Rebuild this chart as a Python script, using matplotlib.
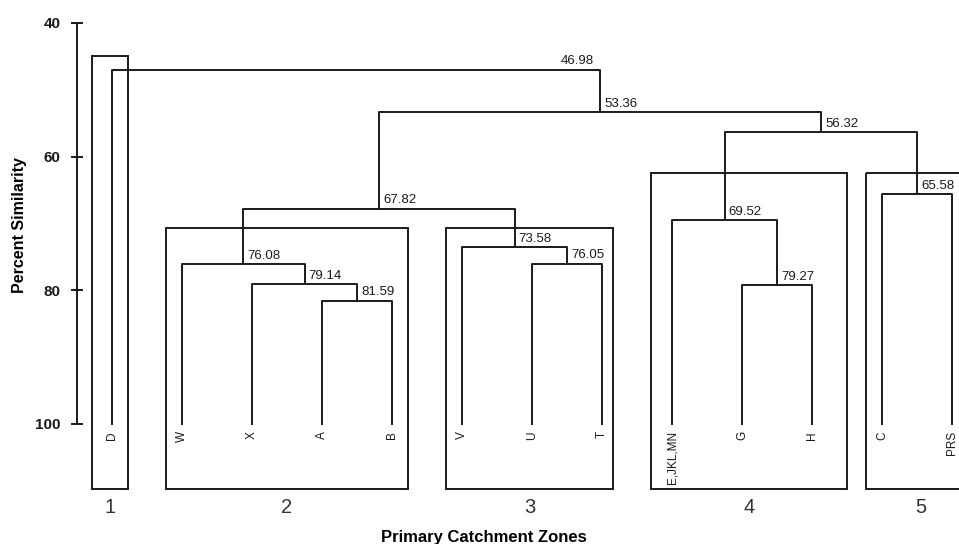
import matplotlib
matplotlib.use("Agg")
from matplotlib import pyplot as plt
from matplotlib.patches import Rectangle

plt.rcParams["font.family"] = ["Liberation Sans", "DejaVu Sans"]

# leaves in the order they are drawn
leaves = ["D", "W", "X", "A", "B", "V", "U", "T", "E,JKL,MN", "G", "H", "C", "PRS"]

# merges: m1 is the first row, m2 the second and so on
merge_left = ["A", "G", "X", "W", "U", "V", "E,JKL,MN", "m4", "C", "m7", "m8", "D"]
merge_right = ["B", "H", "m1", "m3", "T", "m5", "m2", "m6", "PRS", "m9", "m10", "m11"]
merge_height = [81.59, 79.27, 79.14, 76.08, 76.05, 73.58, 69.52, 67.82, 65.58, 56.32, 53.36, 46.98]

# primary catchment zones (boxes), in leaf units / percent similarity
zone_names = ["1", "2", "3", "4", "5"]
zone_left = [0.71, 1.77, 5.77, 8.70, 11.77]
zone_right = [1.23, 5.23, 8.16, 11.50, 13.35]
zone_top = [44.94, 70.69, 70.69, 62.46, 62.46]
zone_bottom = 109.76

yticks = [40, 60, 80, 100]

line_kw = dict(color="#1a1a1a", lw=1.4, solid_capstyle="projecting")

fig = plt.figure(figsize=(9.59, 5.44), dpi=100)
ax = fig.add_axes([0, 0, 1, 1])
ax.set_xlim(-0.6, 13.1)
ax.set_ylim(117.99, 36.56)

# node positions
pos = {}
hgt = {}
for i, name in enumerate(leaves):
    pos[name] = i + 1
    hgt[name] = 100

for k in range(len(merge_height)):
    a, b, h = merge_left[k], merge_right[k], merge_height[k]
    xa, xb = pos[a], pos[b]
    ax.plot([xa, xa, xb, xb], [hgt[a], h, h, hgt[b]], **line_kw)
    node = "m%d" % (k + 1)
    pos[node] = (xa + xb) / 2
    hgt[node] = h
    if k == len(merge_height) - 1:
        # root label sits left of the right-hand stem
        ax.text(xb - 0.08, h - 0.35, "%.2f" % h, ha="right", va="bottom",
                fontsize=9.5, color="#1a1a1a")
    else:
        ax.text(pos[node] + 0.06, h - 0.35, "%.2f" % h, ha="left", va="bottom",
                fontsize=9.5, color="#1a1a1a")

# leaf labels
for i, name in enumerate(leaves):
    ax.text(i + 1, 101.1, name, rotation=90, ha="center", va="top",
            fontsize=8.5, color="#1a1a1a")

# zone boxes
for n, l, r, t in zip(zone_names, zone_left, zone_right, zone_top):
    ax.add_patch(Rectangle((l, t), r - l, zone_bottom - t, fill=False,
                           edgecolor="#1a1a1a", lw=1.4, clip_on=False))
    ax.text((l + r) / 2, 112.5, n, ha="center", va="center",
            fontsize=14.5, color="#333333")

# y axis
for s in ["top", "right", "bottom"]:
    ax.spines[s].set_visible(False)
ax.spines["left"].set_position(("data", 0.5))
ax.spines["left"].set_bounds(40, 100)
ax.spines["left"].set_linewidth(1.4)
ax.spines["left"].set_color("#1a1a1a")
ax.set_yticks(yticks)
ax.set_yticklabels([str(t) for t in yticks], fontweight="bold", fontsize=11)
ax.tick_params(axis="y", direction="inout", length=8, width=1.4, pad=8, colors="#1a1a1a")
ax.set_xticks([])

ax.set_ylabel("Percent Similarity", fontweight="bold", fontsize=11.5)
ax.yaxis.set_label_coords(27 / 959, 1 - 225 / 544)
ax.set_xlabel("Primary Catchment Zones", fontweight="bold", fontsize=12)
ax.xaxis.set_label_coords(483.5 / 959, 1 - 530 / 544)

fig.savefig("out.png", dpi=100)
